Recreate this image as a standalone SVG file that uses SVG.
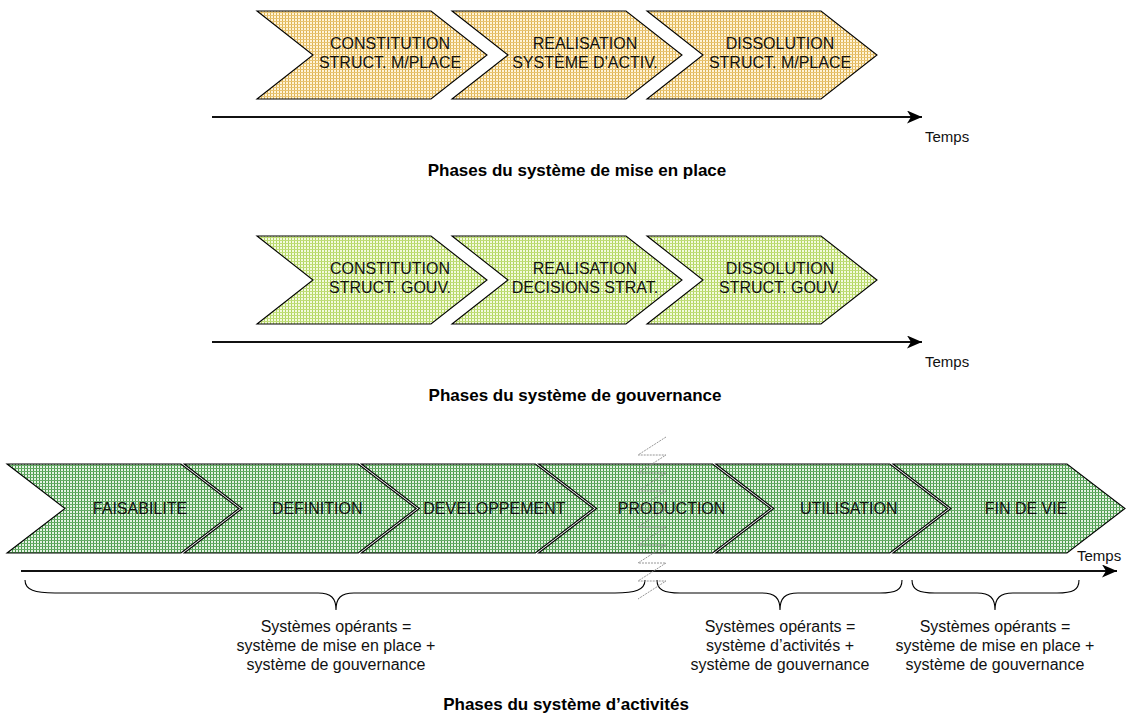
<svg xmlns="http://www.w3.org/2000/svg" width="1126" height="718" viewBox="0 0 1126 718">
<defs>
<pattern id="pTan" width="3" height="3" patternUnits="userSpaceOnUse">
<rect width="3" height="3" fill="#FFF4D8"/>
<rect x="0" y="0" width="1" height="3" fill="#DEB354"/>
<rect x="0" y="0" width="3" height="1" fill="#E8C472"/>
</pattern>
<pattern id="pLime" width="3" height="3" patternUnits="userSpaceOnUse">
<rect width="3" height="3" fill="#F4FADF"/>
<rect x="0" y="0" width="1" height="3" fill="#B2D660"/>
<rect x="0" y="0" width="3" height="1" fill="#C0DD78"/>
</pattern>
<pattern id="pGreen" width="3" height="3" patternUnits="userSpaceOnUse">
<rect width="3" height="3" fill="#E4F2E4"/>
<rect x="0" y="0" width="1" height="3" fill="#4A9A4A"/>
<rect x="0" y="0" width="3" height="1" fill="#66AC66"/>
</pattern>
<marker id="arr" markerUnits="userSpaceOnUse" markerWidth="16" markerHeight="14" refX="15" refY="6.5" orient="auto">
<path d="M0,0 L15,6.5 L0,13 L4,6.5 Z" fill="#000"/>
</marker>
<style>
.chev{stroke:#000;stroke-width:1.1}
.t{font-family:"Liberation Sans",Arial,sans-serif;font-size:16px;fill:#111;text-anchor:middle}
.tm{font-family:"Liberation Sans",Arial,sans-serif;font-size:15px;fill:#111}
.ttl{font-family:"Liberation Sans",Arial,sans-serif;font-size:17px;font-weight:bold;fill:#000;text-anchor:middle}
.axis{stroke:#111;stroke-width:1.8;fill:none}
.brace{stroke:#000;stroke-width:1.1;fill:none}
.brk{stroke:#8a8a8a;stroke-width:0.9;fill:none;stroke-dasharray:2 1}
</style>
</defs>
<rect width="1126" height="718" fill="#fff"/>

<!-- Row 1 -->
<g id="r1c1"><path class="chev" fill="url(#pTan)" d="M257,11 L431,11 L487,55 L431,99 L257,99 L313,55 Z"/>
<text class="t" x="390" y="49">CONSTITUTION</text><text class="t" x="390" y="68">STRUCT. M/PLACE</text></g>
<g id="r1c2"><path class="chev" fill="url(#pTan)" d="M452,11 L626,11 L682,55 L626,99 L452,99 L508,55 Z"/>
<text class="t" x="585" y="49">REALISATION</text><text class="t" x="585" y="68">SYSTÈME D'ACTIV.</text></g>
<g id="r1c3"><path class="chev" fill="url(#pTan)" d="M647,11 L821,11 L877,55 L821,99 L647,99 L703,55 Z"/>
<text class="t" x="780" y="49">DISSOLUTION</text><text class="t" x="780" y="68">STRUCT. M/PLACE</text></g>
<text class="tm" x="925" y="142">Temps</text>
<text class="ttl" x="577" y="176">Phases du système de mise en place</text>

<!-- Row 2 -->
<g id="r2c1"><path class="chev" fill="url(#pLime)" d="M257,236 L431,236 L487,280 L431,324 L257,324 L313,280 Z"/>
<text class="t" x="390" y="274">CONSTITUTION</text><text class="t" x="390" y="293">STRUCT. GOUV.</text></g>
<g id="r2c2"><path class="chev" fill="url(#pLime)" d="M452,236 L626,236 L682,280 L626,324 L452,324 L508,280 Z"/>
<text class="t" x="585" y="274">REALISATION</text><text class="t" x="585" y="293">DECISIONS STRAT.</text></g>
<g id="r2c3"><path class="chev" fill="url(#pLime)" d="M647,236 L821,236 L877,280 L821,324 L647,324 L703,280 Z"/>
<text class="t" x="780" y="274">DISSOLUTION</text><text class="t" x="780" y="293">STRUCT. GOUV.</text></g>
<text class="tm" x="925" y="367">Temps</text>
<text class="ttl" x="575" y="401">Phases du système de gouvernance</text>

<!-- Row 3 -->
<g id="r3c1"><path class="chev" fill="url(#pGreen)" d="M7,464 L181,464 L239,508.5 L181,553 L7,553 L65,508.5 Z"/>
<text class="t" x="140" y="514">FAISABILITE</text></g>
<g id="r3c2"><path class="chev" fill="url(#pGreen)" d="M184.2,464 L358.2,464 L416.2,508.5 L358.2,553 L184.2,553 L242.2,508.5 Z"/>
<text class="t" x="317.2" y="514">DEFINITION</text></g>
<g id="r3c3"><path class="chev" fill="url(#pGreen)" d="M361.4,464 L535.4,464 L593.4,508.5 L535.4,553 L361.4,553 L419.4,508.5 Z"/>
<text class="t" x="494.4" y="514">DEVELOPPEMENT</text></g>
<g id="r3c4"><path class="chev" fill="url(#pGreen)" d="M538.6,464 L712.6,464 L770.6,508.5 L712.6,553 L538.6,553 L596.6,508.5 Z"/>
<text class="t" x="671.6" y="514">PRODUCTION</text></g>
<g id="r3c5"><path class="chev" fill="url(#pGreen)" d="M715.8,464 L889.8,464 L947.8,508.5 L889.8,553 L715.8,553 L773.8,508.5 Z"/>
<text class="t" x="848.8" y="514">UTILISATION</text></g>
<g id="r3c6"><path class="chev" fill="url(#pGreen)" d="M893,464 L1067,464 L1125,508.5 L1067,553 L893,553 L951,508.5 Z"/>
<text class="t" x="1026" y="514">FIN DE VIE</text></g>
<text class="tm" x="1077" y="561">Temps</text>

<g id="connectors">
<line class="axis" x1="212" y1="117" x2="922" y2="117" marker-end="url(#arr)"/>
<line class="axis" x1="212" y1="342" x2="922" y2="342" marker-end="url(#arr)"/>
<line class="axis" x1="21" y1="571" x2="1117" y2="571" marker-end="url(#arr)" style="stroke-width:2.2"/>
<path class="brace" d="M25,580 C25,590 35,593 55,593 L318,593 C331,593 336,598 336,610 C336,598 341,593 354,593 L615,593 C635,593 645,590 645,580"/>
<path class="brace" d="M657,580 C657,590 664,593 680,593 L762,593 C775,593 780,598 780,610 C780,598 785,593 798,593 L880,593 C896,593 902,590 902,580"/>
<path class="brace" d="M912,580 C912,590 919,593 935,593 L977,593 C990,593 995,598 995,610 C995,598 1000,593 1013,593 L1057,593 C1073,593 1079,590 1079,580"/>
<polyline class="brk" points="666,437 638,455 666,455 638,473 666,473 638,491 666,491 638,509 666,509 638,527 666,527 638,545 666,545 638,563 666,563 638,581 666,581 638,599"/>
</g>

<g id="labels">
<text class="t" x="336" y="632">Systèmes opérants =</text>
<text class="t" x="336" y="651">système de mise en place +</text>
<text class="t" x="336" y="670">système de gouvernance</text>
<text class="t" x="780" y="632">Systèmes opérants =</text>
<text class="t" x="780" y="651">système d’activités +</text>
<text class="t" x="780" y="670">système de gouvernance</text>
<text class="t" x="995" y="632">Systèmes opérants =</text>
<text class="t" x="995" y="651">système de mise en place +</text>
<text class="t" x="995" y="670">système de gouvernance</text>
<text class="ttl" x="566" y="710">Phases du système d’activités</text>
</g>
</svg>
